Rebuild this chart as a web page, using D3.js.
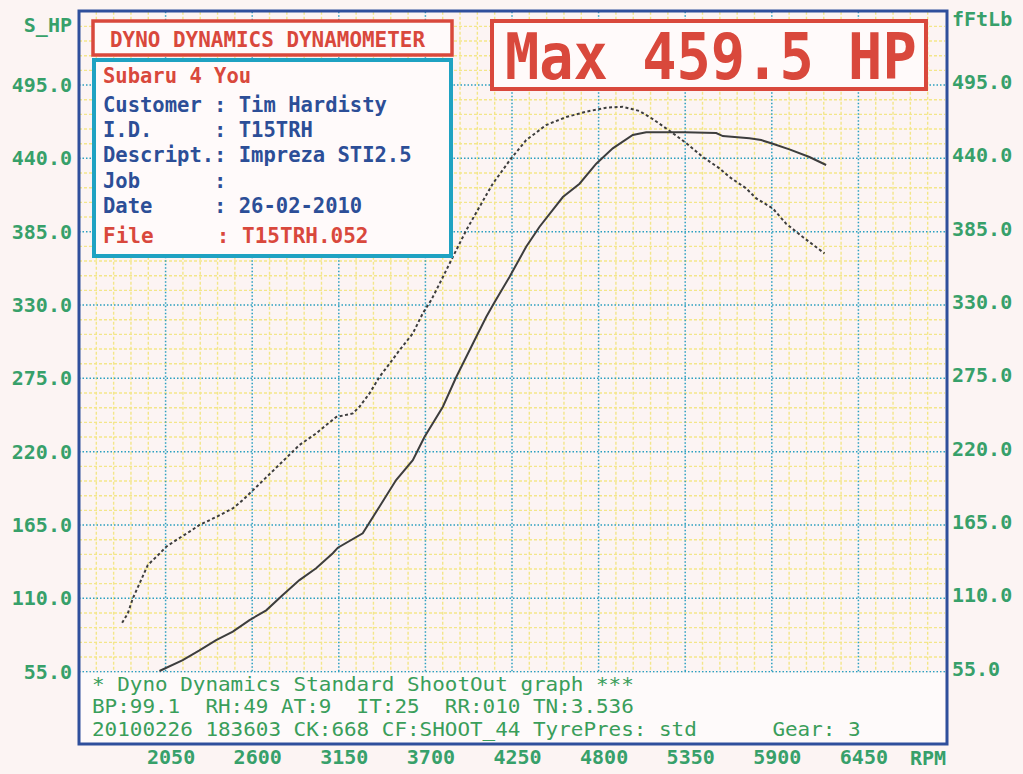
<!DOCTYPE html>
<html><head><meta charset="utf-8">
<script src="https://cdn.jsdelivr.net/npm/d3@7/dist/d3.min.js"></script>
<style>
html,body{margin:0;padding:0;background:#fcf4f3;}
svg{display:block;}
text{font-family:"DejaVu Sans Mono","Liberation Mono",monospace;font-weight:bold;white-space:pre;}
</style></head>
<body>
<svg id="c" width="1023" height="774"></svg>
<script>
// ---- data ----
const powerRpm = [2011,2159,2265,2371,2477,2583,2689,2794,2900,3006,3112,3144,3302,3408,3514,3620,3694,3811,3896,4001,4086,4139,4234,4340,4425,4573,4679,4785,4890,5017,5102,5345,5547,5589,5758,5833,5906,6012,6139,6245];
const powerHp  = [55.5,63.7,71,78.7,85,93.7,101,112.5,123.7,132.5,143.8,148,158.8,178.7,198.7,213.7,231,253.7,276,301,321,332,351,373.7,388.7,411,421,436,447.5,457.5,459.5,459.5,459,456.7,455,453.7,451,446.7,441,435];
const torqueRpm = [1774,1810,1842,1884,1937,1990,2054,2117,2202,2265,2371,2477,2540,2724,2900,3006,3070,3134,3239,3281,3345,3408,3472,3535,3620,3683,3737,3790,3874,3959,4044,4128,4245,4340,4467,4594,4721,4848,4954,5060,5144,5250,5345,5462,5568,5631,5737,5801,5906,5991,6097,6235];
const torqueFtLb = [91.7,98.7,110,121,135,141,148.7,153.7,160,165,171,177.5,183.7,204.7,225,233.7,240,246,248.7,253.7,263.7,276,286,296,308.7,323.7,333.7,346,366,386,403.7,421,440,453.7,465,471,475,478,478.7,475.5,469.5,460.7,452.5,441,432.5,426,417.5,410,402.5,391,381,368.7];
const yTicks = [55,110,165,220,275,330,385,440,495];
const xTicks = [2050,2600,3150,3700,4250,4800,5350,5900,6450];
const titleText = "DYNO DYNAMICS DYNAMOMETER";
const maxText = "Max 459.5 HP";
const infoLines = [
  {t:"Subaru 4 You", c:"red"},
  {t:"Customer : Tim Hardisty", c:"blue"},
  {t:"I.D.     : T15TRH", c:"blue"},
  {t:"Descript.: Impreza STI2.5", c:"blue"},
  {t:"Job      :", c:"blue"},
  {t:"Date     : 26-02-2010", c:"blue"},
  {t:"File     : T15TRH.052", c:"red"}
];
const footerLines = [
  "* Dyno Dynamics Standard ShootOut graph ***",
  "BP:99.1  RH:49 AT:9  IT:25  RR:010 TN:3.536",
  "20100226 183603 CK:668 CF:SHOOT_44 TyrePres: std      Gear: 3"
];

// ---- drawing ----
const svg = d3.select("#c");
const RED="#d9483c", BLUE="#2c4e97", GREEN="#37a06a", FOOT="#3a9e5a", CYAN="#1fa2c2";
const x = d3.scaleLinear().domain([1500,7000]).range([79,945]);
const y = d3.scaleLinear().domain([0,550]).range([745,11.7]);

svg.append("rect").attr("width",1023).attr("height",774).attr("fill","#fcf4f3");

// minor grid
const g = svg.append("g");
const minorX = d3.range(1610,7000,110).filter(v=>(v-2050)%550!==0);
const minorY = d3.range(66,550,11).filter(v=>v%55!==0);
g.selectAll(".mx").data(minorX).join("line")
  .attr("x1",d=>x(d)).attr("x2",d=>x(d)).attr("y1",y(550)).attr("y2",y(55))
  .attr("stroke","#f3e68a").attr("stroke-width",1.4).attr("stroke-dasharray","3,2");
g.selectAll(".my").data(minorY).join("line")
  .attr("x1",x(1500)).attr("x2",x(7000)).attr("y1",d=>y(d)).attr("y2",d=>y(d))
  .attr("stroke","#f3e68a").attr("stroke-width",1.4).attr("stroke-dasharray","3,2");
// major grid
g.selectAll(".Mx").data(xTicks).join("line")
  .attr("x1",d=>x(d)).attr("x2",d=>x(d)).attr("y1",y(550)).attr("y2",y(55))
  .attr("stroke","#2b9fc0").attr("stroke-width",1.5).attr("stroke-dasharray","1.5,2");
g.selectAll(".My").data(yTicks).join("line")
  .attr("x1",x(1500)).attr("x2",x(7000)).attr("y1",d=>y(d)).attr("y2",d=>y(d))
  .attr("stroke","#2b9fc0").attr("stroke-width",1.5).attr("stroke-dasharray","1.5,2");

// curves
const line = d3.line().x(d=>x(d[0])).y(d=>y(d[1])).curve(d3.curveLinear);
svg.append("path").datum(d3.zip(torqueRpm,torqueFtLb)).attr("d",line)
  .attr("fill","none").attr("stroke","#3d3d3d").attr("stroke-width",2).attr("stroke-dasharray","3,2.5");
svg.append("path").datum(d3.zip(powerRpm,powerHp)).attr("d",line)
  .attr("fill","none").attr("stroke","#3d3d3d").attr("stroke-width",2);

// footer box
svg.append("rect").attr("x",x(1500)).attr("y",y(55)+1).attr("width",x(7000)-x(1500)).attr("height",745-y(55)-1)
  .attr("fill","#fefafa");
footerLines.forEach((t,i)=>{
  svg.append("text").attr("x",92).attr("y",[691,713,736][i]).attr("fill",FOOT)
    .attr("font-size",20).style("font-weight","normal")
    .attr("textLength",t.length*12.6).attr("lengthAdjust","spacingAndGlyphs").text(t);
});

// title box
svg.append("rect").attr("x",93).attr("y",21).attr("width",359).attr("height",34)
  .attr("fill","#fffafa").attr("stroke",RED).attr("stroke-width",3.5);
svg.append("text").attr("x",110).attr("y",47).attr("fill",RED).attr("font-size",22)
  .attr("textLength",315).attr("lengthAdjust","spacingAndGlyphs").text(titleText);

// info box
svg.append("rect").attr("x",94).attr("y",60).attr("width",357).attr("height",196)
  .attr("fill","#fffafa").attr("stroke",CYAN).attr("stroke-width",4);
const infoY=[83,112,137,162,188,213,243];
infoLines.forEach((l,i)=>{
  svg.append("text").attr("x",103).attr("y",infoY[i]).attr("fill",l.c==="red"?RED:BLUE)
    .attr("font-size",i===6?21:20.5).text(l.t);
});

// max box
svg.append("rect").attr("x",492).attr("y",21).attr("width",434).attr("height",68)
  .attr("fill","#fffafa").attr("stroke",RED).attr("stroke-width",4);
svg.append("text").attr("transform","translate(505,79) scale(1,1.12)").attr("fill",RED).attr("font-size",57)
  .text(maxText);

// frame
svg.append("rect").attr("x",79).attr("y",11).attr("width",868).attr("height",733)
  .attr("fill","none").attr("stroke","#2f4f9c").attr("stroke-width",3);

// axes
const fmt = d3.format(".1f");
const left = svg.append("g").attr("transform","translate(72,0)")
  .call(d3.axisLeft(y).tickValues(yTicks).tickFormat(fmt).tickSize(0).tickPadding(0));
const right = svg.append("g").attr("transform","translate(952,-3)")
  .call(d3.axisRight(y).tickValues(yTicks).tickFormat(fmt).tickSize(0).tickPadding(0));
const bottom = svg.append("g").attr("transform","translate(5,750)")
  .call(d3.axisBottom(x).tickValues(xTicks).tickFormat(d3.format("d")).tickSize(0).tickPadding(0));
[left,right,bottom].forEach(a=>{
  a.select(".domain").remove();
  a.selectAll("text").attr("fill",GREEN).attr("font-size",20)
    .attr("font-family","DejaVu Sans Mono").attr("font-weight","bold");
});
svg.append("text").attr("x",72).attr("y",32).attr("text-anchor","end").attr("fill",GREEN).attr("font-size",20).text("S_HP");
svg.append("text").attr("x",952).attr("y",26).attr("fill",GREEN).attr("font-size",20).text("fFtLb");
svg.append("text").attr("x",910).attr("y",765).attr("fill",GREEN).attr("font-size",20).text("RPM");
</script>
</body></html>
